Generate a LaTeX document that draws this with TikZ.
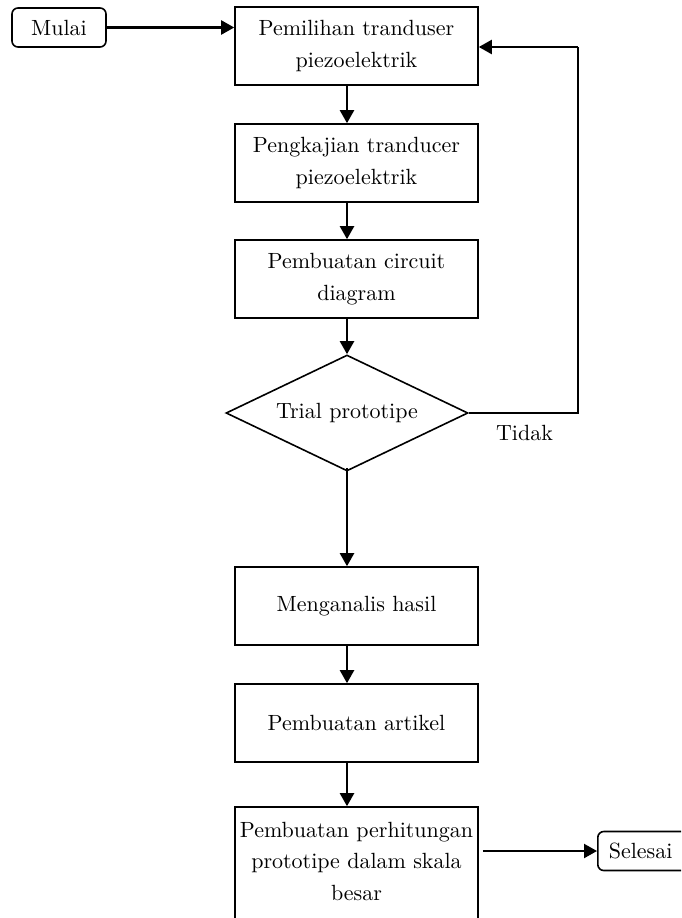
\documentclass[tikz,border=0pt]{standalone}
\usepackage{fontspec}
\setmainfont{lmroman10-regular}[Extension=.otf]
\usetikzlibrary{shapes.geometric,arrows.meta,fit}
\begin{document}
\begin{tikzpicture}[x=1pt,y=-1pt,
  txt/.style={font=\fontsize{22}{31.5}\selectfont, align=center},
  box/.style={txt, draw, line width=1.6pt, minimum width=243pt, minimum height=78pt, inner sep=0pt},
  term/.style={txt, draw, line width=1.6pt, rounded corners=6pt, minimum height=39pt, inner sep=0pt},
  dec/.style={txt, draw, diamond, line width=1.6pt, minimum width=242pt, minimum height=116pt, aspect=2.09, inner sep=0pt},
  arr/.style={line width=2.2pt, -{Triangle[length=13pt,width=14pt]}},
  thinline/.style={line width=1.4pt}]
\useasboundingbox (0,0) rectangle (681,918);
\clip (0,0) rectangle (681,918);
\coordinate (ax) at (347,0);
\node[term, minimum width=94pt] (m) at (59,27.5) {Mulai};
\node[box] (b1) at (356.5,46) {Pemilihan tranduser\\piezoelektrik};
\node[box] (b2) at (356.5,163) {Pengkajian tranducer\\piezoelektrik};
\node[box] (b3) at (356.5,279) {Pembuatan circuit\\diagram};
\node[dec] (d) at (347,413) {Trial prototipe};
\node[box] (b4) at (356.5,606) {Menganalis hasil};
\node[box] (b5) at (356.5,723) {Pembuatan artikel};
\coordinate (b6tl) at (235,807);
\coordinate (b6br) at (478,980);
\node[draw, line width=1.6pt, fit=(b6tl)(b6br), inner sep=0pt] (b6) {};
\node[txt] (b6t) at (356.5,861) {Pembuatan perhitungan\\prototipe dalam skala\\besar};
\node[term, anchor=west, text width=90pt, align=left, inner xsep=11pt] (s) at (597,851) {Selesai};
\node[txt] (tidak) at (524.5,433) {Tidak};
\coordinate (fbb) at (578,413);
\coordinate (fbt) at (578,47);
% connectors
\draw[arr] (m.east) -- (b1.west |- m.east);
\draw[arr] (b1.south -| ax) -- (b2.north -| ax);
\draw[arr] (b2.south -| ax) -- (b3.north -| ax);
\draw[arr] (b3.south -| ax) -- (d.north);
\draw[arr] ([yshift=4pt]d.south) -- (b4.north -| ax);
\draw[arr] (b4.south -| ax) -- (b5.north -| ax);
\draw[arr] (b5.south -| ax) -- (b6.north -| ax);
\draw[arr] ([xshift=4pt]b6.east |- s.west) -- (s.west);
\draw[thinline] (d.east) -- (fbb) -- (fbt);
\draw[arr] (fbt) -- (b1.east |- fbt);
\end{tikzpicture}
\end{document}
